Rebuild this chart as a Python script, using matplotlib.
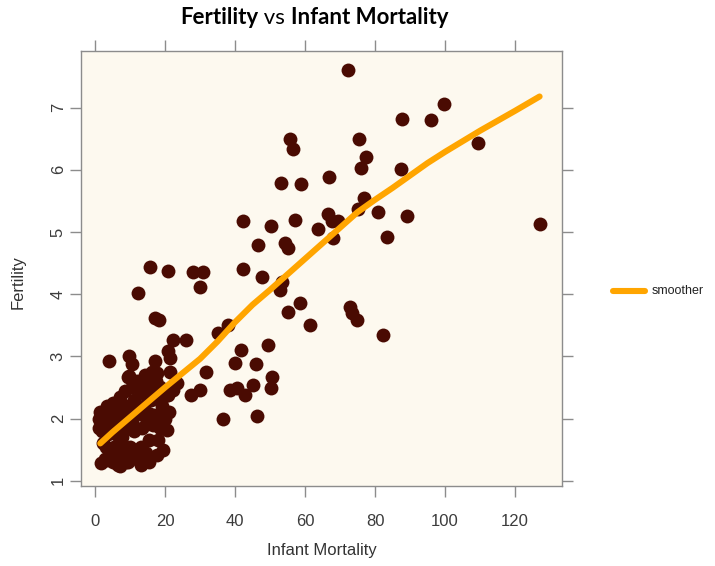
import matplotlib
matplotlib.use("Agg")
import matplotlib.pyplot as plt
from matplotlib.lines import Line2D

# Infant mortality (per 1000 births) and fertility (children per woman)
infant_mortality = [
    72.4, 99.7, 87.6, 95.9, 55.7, 56.7, 75.5, 77.3, 75.9, 87.4,
    66.8, 58.8, 53.0, 76.7, 75.0, 80.8, 66.5, 109.3, 89.2, 83.5,
    127.1, 82.2, 42.2, 50.3, 57.1, 67.6, 69.5, 63.6, 68.1, 46.7,
    54.3, 55.2, 42.4, 47.6, 53.3, 52.9, 58.6, 55.2, 72.7, 73.3,
    74.8, 61.4, 37.9, 35.2, 49.5, 41.6, 40.0, 46.0, 50.5, 50.3,
    45.2, 40.5, 42.9, 38.6, 46.4, 36.7, 15.8, 20.9, 27.9, 30.8,
    30.0, 12.4, 17.1, 18.4, 22.4, 26.0, 20.9, 21.5, 4.1, 9.8,
    10.5, 17.0, 31.7, 9.8, 30.0, 27.5, 22.4, 20.9, 14.8, 18.6,
    20.5, 17.6, 13.8, 15.7, 7.1, 3.3,
    1.5, 1.8, 2.0, 2.5, 2.2, 2.8, 1.8, 3.5, 3.0, 4.0,
    5.0, 5.5, 6.0, 6.5, 5.2, 7.0, 7.5, 8.0, 6.5, 8.0, 7.8,
    9.5, 10.0, 10.5, 9.0, 11.0, 11.5, 12.0, 10.5, 12.0, 8.5,
    13.0, 13.5, 14.0, 14.5, 15.5, 13.0, 16.0, 15.0,
    17.0, 18.0, 19.0, 17.5, 21.0, 19.5,
    15.2, 17.6, 21.4, 23.3, 20.5, 18.6, 9.5,
    1.2, 1.0, 3.8, 4.5, 5.8, 6.8, 7.2, 8.8, 10.2, 11.2,
    13.8, 14.8, 16.5, 16.8, 18.2, 19.5, 3.2, 4.6, 6.0, 8.9,
    11.0, 13.0, 15.5, 12.0, 14.2, 16.2, 18.5, 20.0,
]
fertility = [
    7.60, 7.06, 6.82, 6.81, 6.49, 6.34, 6.49, 6.21, 6.03, 6.02,
    5.88, 5.78, 5.79, 5.55, 5.37, 5.32, 5.29, 6.44, 5.25, 4.92,
    5.13, 3.34, 5.17, 5.09, 5.19, 5.17, 5.18, 5.05, 4.90, 4.79,
    4.82, 4.75, 4.40, 4.27, 4.20, 4.07, 3.86, 3.71, 3.79, 3.69,
    3.58, 3.50, 3.50, 3.38, 3.18, 3.11, 2.90, 2.87, 2.67, 2.49,
    2.54, 2.49, 2.38, 2.46, 2.04, 1.99, 4.43, 4.37, 4.35, 4.35,
    4.12, 4.02, 3.62, 3.58, 3.27, 3.27, 3.09, 2.97, 2.93, 3.00,
    2.88, 2.93, 2.75, 2.68, 2.46, 2.38, 2.46, 2.38, 1.92, 1.84,
    1.82, 1.41, 1.33, 2.08, 1.23, 1.33,
    2.10, 1.95, 1.80, 2.05, 1.60, 1.35, 1.28, 2.20, 1.90, 1.50,
    1.30, 1.55, 1.75, 2.00, 2.25, 2.35, 1.90, 1.45, 1.25, 2.10, 1.70,
    1.30, 1.55, 1.95, 2.20, 2.30, 1.50, 1.35, 2.50, 2.10, 2.45,
    1.55, 1.85, 2.20, 1.45, 1.65, 2.45, 2.30, 2.55,
    2.05, 1.65, 2.20, 2.60, 2.10, 1.50,
    2.67, 2.73, 2.75, 2.57, 2.38, 2.51, 2.67,
    1.85, 2.00, 1.75, 2.10, 1.95, 1.60, 2.15, 1.85, 2.15, 1.80,
    2.05, 2.35, 1.90, 2.45, 2.35, 2.45, 1.55, 1.35, 1.40, 1.30,
    1.40, 1.25, 1.30, 2.60, 2.70, 2.75, 2.00, 2.00,
]

# Smoothed trend (loess-style fit)
smooth_x = [1.5, 5, 10, 15, 20, 25, 30, 35, 40, 45, 50, 55, 60, 65, 70,
            75, 80, 85, 90, 95, 100, 105, 110, 115, 120, 127]
smooth_y = [1.60, 1.78, 2.02, 2.26, 2.50, 2.73, 2.96, 3.24, 3.55, 3.83,
            4.07, 4.32, 4.57, 4.82, 5.07, 5.32, 5.52, 5.71, 5.91, 6.11,
            6.29, 6.46, 6.63, 6.79, 6.95, 7.18]

x_ticks = [0, 20, 40, 60, 80, 100, 120]
y_ticks = [1, 2, 3, 4, 5, 6, 7]

W, H = 715, 566
fig = plt.figure(figsize=(W / 100, H / 100), dpi=100)
fig.patch.set_facecolor("white")

left, right, top, bottom = 81, 562, 51, 486
ax = fig.add_axes([left / W, 1 - bottom / H, (right - left) / W, (bottom - top) / H])
ax.set_facecolor("#fdf9ef")

ax.scatter(infant_mortality, fertility, s=100, color="#4a0b02",
           linewidths=0, zorder=3)
ax.plot(smooth_x, smooth_y, color="#ffa500", lw=4.4,
        solid_capstyle="round", solid_joinstyle="round", zorder=4)

ax.set_xlim(-4.0, 133.4)
ax.set_ylim(0.915, 7.912)

tick_font = dict(family="Liberation Sans", size=12)
grey = "#8c8c8c"
for sp in ax.spines.values():
    sp.set_color(grey)
    sp.set_linewidth(1.0)

ax.set_xticks(x_ticks)
ax.set_yticks(y_ticks)
ax.set_xticklabels([str(v) for v in x_ticks], fontdict=tick_font, color="#3c3c3c")
ax.set_yticklabels([str(v) for v in y_ticks], fontdict=tick_font, color="#3c3c3c",
                   rotation=90, va="center")
ax.tick_params(axis="both", direction="out", length=8, width=1.0, color=grey,
               top=True, right=True, labeltop=False, labelright=False)
ax.tick_params(axis="x", pad=12)
ax.tick_params(axis="y", pad=3)

fig.text(322 / W, 1 - 550 / H, "Infant Mortality", ha="center", va="center",
         family="Liberation Sans", size=12, color="#333333")
fig.text(18 / W, 1 - 282 / H, "Fertility", ha="center", va="center", rotation=90,
         family="Liberation Sans", size=12, color="#333333")

# Legend key for the smoother, outside the panel on the right
fig.add_artist(Line2D([613 / W, 645 / W], [1 - 291 / H, 1 - 291 / H],
                      transform=fig.transFigure, color="#ffa500", lw=4.4,
                      solid_capstyle="round"))
fig.text(652 / W, 1 - 291 / H, "smoother", ha="left", va="center",
         family="Liberation Sans", size=9, color="#222222")

# Title assembled from bold and regular pieces
parts = [("Fertility", "bold"), (" vs ", "normal"), ("Infant Mortality", "bold")]
renderer = fig.canvas.get_renderer()
texts = []
for s, w in parts:
    t = fig.text(0, 1 - 18 / H, s, ha="left", va="center", family="Lato",
                 weight=w, size=16, color="black")
    texts.append(t)
widths = [t.get_window_extent(renderer=renderer).width for t in texts]
x0 = 314 - sum(widths) / 2
for t, w in zip(texts, widths):
    t.set_x(x0 / W)
    x0 += w

fig.savefig("out.png", dpi=100)
